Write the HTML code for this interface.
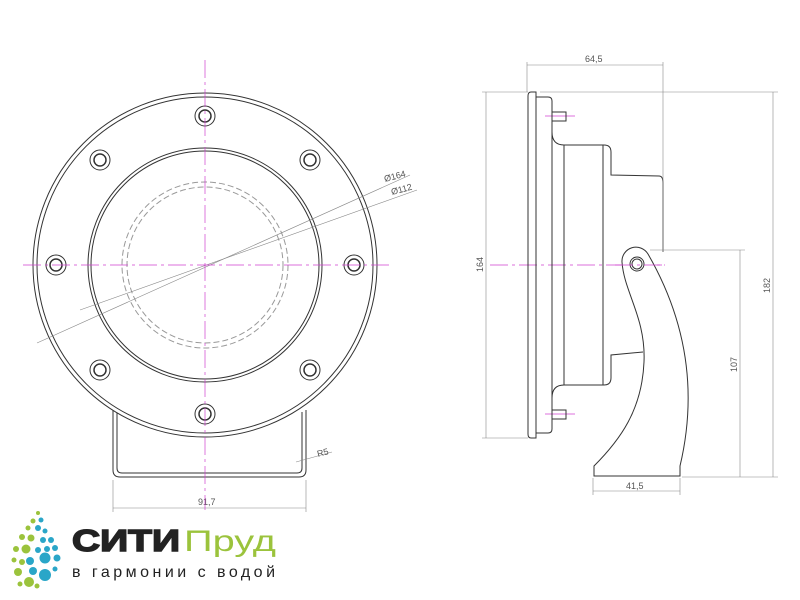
<!DOCTYPE html>
<html><head><meta charset="utf-8"><style>html,body{margin:0;padding:0;background:#fff;width:800px;height:600px;overflow:hidden}</style></head>
<body>
<svg width="800" height="600" viewBox="0 0 800 600" xmlns="http://www.w3.org/2000/svg" font-family="Liberation Sans, sans-serif">
<g fill="none" stroke="#333" stroke-width="1">
 <!-- left view -->
 <path d="M113,410 L113,470 Q113,477 120,477 L299,477 Q306,477 306,470 L306,410" />
 <path d="M117,412 L117,468 Q117,473 122,473 L297,473 Q302,473 302,468 L302,412" />
 <circle cx="205" cy="265" r="172" fill="#fff"/>
 <circle cx="205" cy="265" r="168"/>
 <circle cx="205" cy="265" r="117"/>
 <circle cx="205" cy="265" r="114"/>
 <g stroke="#999" stroke-dasharray="6,3"><circle cx="205" cy="265" r="83"/><circle cx="205" cy="265" r="78"/></g>
 <g>
  <circle cx="205" cy="116" r="10"/><circle cx="205" cy="116" r="6" stroke-width="1.5"/>
  <circle cx="205" cy="414" r="10"/><circle cx="205" cy="414" r="6" stroke-width="1.5"/>
  <circle cx="56" cy="265" r="10"/><circle cx="56" cy="265" r="6" stroke-width="1.5"/>
  <circle cx="354" cy="265" r="10"/><circle cx="354" cy="265" r="6" stroke-width="1.5"/>
  <circle cx="100" cy="160" r="10"/><circle cx="100" cy="160" r="6" stroke-width="1.5"/>
  <circle cx="310" cy="160" r="10"/><circle cx="310" cy="160" r="6" stroke-width="1.5"/>
  <circle cx="100" cy="370" r="10"/><circle cx="100" cy="370" r="6" stroke-width="1.5"/>
  <circle cx="310" cy="370" r="10"/><circle cx="310" cy="370" r="6" stroke-width="1.5"/>
 </g>
</g>
<g stroke="#888" stroke-width="0.6" fill="none">
 <line x1="37" y1="343" x2="410" y2="175"/>
 <line x1="80" y1="310" x2="417" y2="190"/>
 <line x1="113" y1="480" x2="113" y2="512"/><line x1="306" y1="480" x2="306" y2="512"/>
 <line x1="113" y1="508" x2="306" y2="508"/>
 <line x1="296" y1="462" x2="332" y2="452"/>
</g>
<g fill="#555" font-size="9">
 <text x="385" y="182" transform="rotate(-15 385 182)">Ø164</text>
 <text x="392" y="195" transform="rotate(-15 392 195)">Ø112</text>
 <text x="318" y="457" transform="rotate(-15 318 457)">R5</text>
 <text x="198" y="505">91,7</text>
</g>
<g stroke="#d040d0" stroke-width="0.7" stroke-dasharray="18,4,3,4">
 <line x1="205" y1="60" x2="205" y2="510"/>
 <line x1="23" y1="265" x2="392" y2="265"/>
 <line x1="490" y1="265" x2="665" y2="265"/>
 <line x1="545" y1="116" x2="575" y2="116" stroke-dasharray="none"/>
 <line x1="545" y1="414" x2="575" y2="414" stroke-dasharray="none"/>
</g>
<!-- side view -->
<g fill="none" stroke="#333" stroke-width="1">
 <path d="M536,92 L531,92 Q528,92 528,96 L528,434 Q528,438 531,438 L536,438 Z"/>
 <path d="M536,97 L548,97 Q552,97 552,101 L552,429 Q552,433 548,433 L536,433"/>
 <path d="M552,112 L566,112 L566,121 L552,121"/>
 <path d="M552,410 L566,410 L566,419 L552,419"/>
 <path d="M552,132 Q552,145 564,145 L604,145 Q611,145 611,152 L611,175 L659,176 Q663,176 663,183 L663,252"/>
 <path d="M552,398 Q552,385 564,385 L604,385 Q611,385 611,378 L611,355 L643,352"/>
 <line x1="564" y1="145" x2="564" y2="385"/>
 <line x1="603" y1="145" x2="603" y2="385"/>
 <path d="M622,262 C624,292 646,318 644,362 C642,410 620,440 594,466 L594,476 L680,476 L680,466 C698,390 686,320 648,254 A14,14 0 0 0 622,262 Z" fill="#fff"/>
 <circle cx="637" cy="264" r="7"/><circle cx="637" cy="264" r="5"/>
</g>
<g stroke="#d040d0" stroke-width="0.7" stroke-dasharray="18,4,3,4"><line x1="615" y1="265" x2="665" y2="265"/></g>
<g stroke="#888" stroke-width="0.6" fill="none">
 <line x1="527" y1="62" x2="527" y2="92"/><line x1="663" y1="62" x2="663" y2="252"/>
 <line x1="527" y1="65" x2="663" y2="65"/>
 <line x1="482" y1="92" x2="528" y2="92"/><line x1="482" y1="438" x2="528" y2="438"/>
 <line x1="486" y1="92" x2="486" y2="438"/>
 <line x1="540" y1="92" x2="778" y2="92"/><line x1="682" y1="477" x2="778" y2="477"/>
 <line x1="773" y1="92" x2="773" y2="477"/>
 <line x1="650" y1="250" x2="745" y2="250"/>
 <line x1="740" y1="250" x2="740" y2="477"/>
 <line x1="593" y1="478" x2="593" y2="495"/><line x1="680" y1="478" x2="680" y2="495"/>
 <line x1="593" y1="491" x2="680" y2="491"/>
</g>
<g fill="#555" font-size="9">
 <text x="585" y="62">64,5</text>
 <text x="626" y="489">41,5</text>
 <text x="483" y="272" transform="rotate(-90 483 272)">164</text>
 <text x="770" y="293" transform="rotate(-90 770 293)">182</text>
 <text x="737" y="372" transform="rotate(-90 737 372)">107</text>
</g>
<!-- logo -->
<g>
 <circle cx="38" cy="513" r="2" fill="#9bc33c"/><circle cx="41" cy="520" r="2.5" fill="#2aa6c8"/>
 <circle cx="33" cy="521" r="2.5" fill="#9bc33c"/><circle cx="28" cy="528" r="2.5" fill="#9bc33c"/>
 <circle cx="38" cy="528" r="3" fill="#2aa6c8"/><circle cx="45" cy="531" r="2.5" fill="#2aa6c8"/>
 <circle cx="22" cy="537" r="3" fill="#9bc33c"/><circle cx="31" cy="538" r="3.5" fill="#9bc33c"/>
 <circle cx="43" cy="540" r="3" fill="#2aa6c8"/><circle cx="51" cy="540" r="3" fill="#2aa6c8"/>
 <circle cx="16" cy="549" r="3" fill="#9bc33c"/><circle cx="26" cy="549" r="4.5" fill="#9bc33c"/>
 <circle cx="38" cy="550" r="3" fill="#2aa6c8"/><circle cx="47" cy="549" r="3" fill="#2aa6c8"/><circle cx="55" cy="548" r="3" fill="#2aa6c8"/>
 <circle cx="14" cy="560" r="2.5" fill="#9bc33c"/><circle cx="22" cy="562" r="3" fill="#9bc33c"/>
 <circle cx="30" cy="561" r="4" fill="#2aa6c8"/><circle cx="45" cy="558" r="5.5" fill="#2aa6c8"/><circle cx="57" cy="558" r="3.5" fill="#2aa6c8"/>
 <circle cx="18" cy="572" r="4" fill="#9bc33c"/><circle cx="33" cy="571" r="4" fill="#2aa6c8"/><circle cx="55" cy="569" r="2.5" fill="#2aa6c8"/>
 <circle cx="20" cy="584" r="2.5" fill="#9bc33c"/><circle cx="29" cy="582" r="5" fill="#9bc33c"/><circle cx="45" cy="575" r="6" fill="#2aa6c8"/>
 <circle cx="37" cy="586" r="2.5" fill="#9bc33c"/>
</g>
<text x="72" y="551" font-size="31" font-weight="bold" fill="#222" textLength="108" lengthAdjust="spacingAndGlyphs" stroke="#222" stroke-width="1.5">СИТИ</text>
<text x="184" y="551" font-size="30" fill="#9bc33c" textLength="92" lengthAdjust="spacingAndGlyphs">Пруд</text>
<text x="72" y="577" font-size="16" fill="#222" textLength="203" lengthAdjust="spacing">в гармонии с водой</text>
</svg>
</body></html>
